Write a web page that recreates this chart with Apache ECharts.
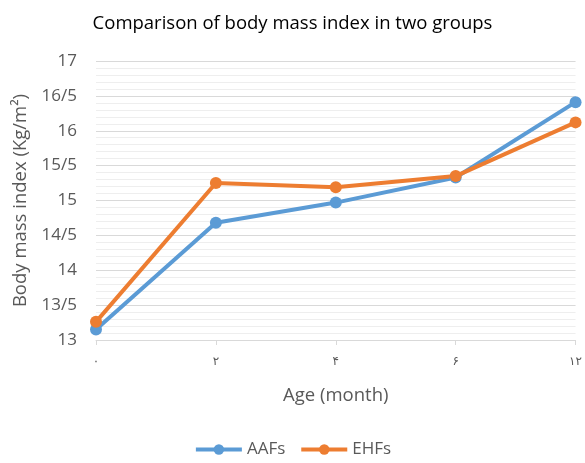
<!DOCTYPE html>
<html>
<head>
<meta charset="utf-8">
<script src="https://cdn.jsdelivr.net/npm/echarts@6/dist/echarts.min.js"></script>
<style>
  html, body { margin: 0; padding: 0; background: #fff; }
  #chart { width: 585px; height: 463px; }
</style>
</head>
<body>
<div id="chart"></div>
<script>
const ages = ['۰', '۲', '۴', '۶', '۱۲']
const aafs = [13.15, 14.68, 14.97, 15.33, 16.41]
const ehfs = [13.26, 15.25, 15.19, 15.35, 16.12]

const font = '"Open Sans", "DejaVu Sans", sans-serif'
const grey = '#595959'

const chart = echarts.init(document.getElementById('chart'))

chart.setOption({
  textStyle: { fontFamily: font },
  title: {
    text: 'Comparison of body mass index in two groups',
    left: 'center',
    top: 9,
    textStyle: { fontFamily: font, fontSize: 18.5, fontWeight: 'normal', color: '#000' },
  },
  grid: { left: 96, right: 9, top: 61, bottom: 123 },
  legend: {
    bottom: 0,
    left: 'center',
    itemWidth: 46,
    itemHeight: 13,
    itemGap: 14,
    lineStyle: { width: 4 },
    textStyle: { fontFamily: font, fontSize: 17, color: grey },
    data: ['AAFs', 'EHFs'],
  },
  xAxis: {
    type: 'category',
    data: ages,
    boundaryGap: false,
    name: 'Age (month)',
    nameLocation: 'middle',
    nameGap: 46,
    nameTextStyle: { fontFamily: font, fontSize: 18.5, color: grey },
    axisLine: { lineStyle: { color: '#d9d9d9' } },
    axisTick: { alignWithLabel: true, length: 5, lineStyle: { color: '#d9d9d9' } },
    axisLabel: { fontFamily: '"DejaVu Sans", sans-serif', fontSize: 12, color: grey, margin: 16 },
  },
  yAxis: {
    type: 'value',
    min: 13,
    max: 17,
    interval: 0.5,
    name: 'Body mass index (Kg/m²)',
    nameLocation: 'middle',
    nameGap: 64,
    nameTextStyle: { fontFamily: font, fontSize: 18.5, color: grey },
    axisLine: { show: false },
    axisTick: { show: false },
    axisLabel: {
      fontFamily: font,
      fontSize: 17,
      color: grey,
      margin: 19,
      formatter: (v) => String(v).replace('.', '/'),
    },
    splitLine: { lineStyle: { color: '#d9d9d9', width: 1 } },
    minorTick: { show: false, splitNumber: 5 },
    minorSplitLine: { show: true, lineStyle: { color: '#eeeeee', width: 1 } },
  },
  series: [
    {
      name: 'AAFs',
      type: 'line',
      data: aafs,
      symbol: 'circle',
      symbolSize: 12,
      color: '#5B9BD5',
      lineStyle: { width: 4 },
    },
    {
      name: 'EHFs',
      type: 'line',
      data: ehfs,
      symbol: 'circle',
      symbolSize: 12,
      color: '#ED7D31',
      lineStyle: { width: 4 },
    },
  ],
})
</script>
</body>
</html>
